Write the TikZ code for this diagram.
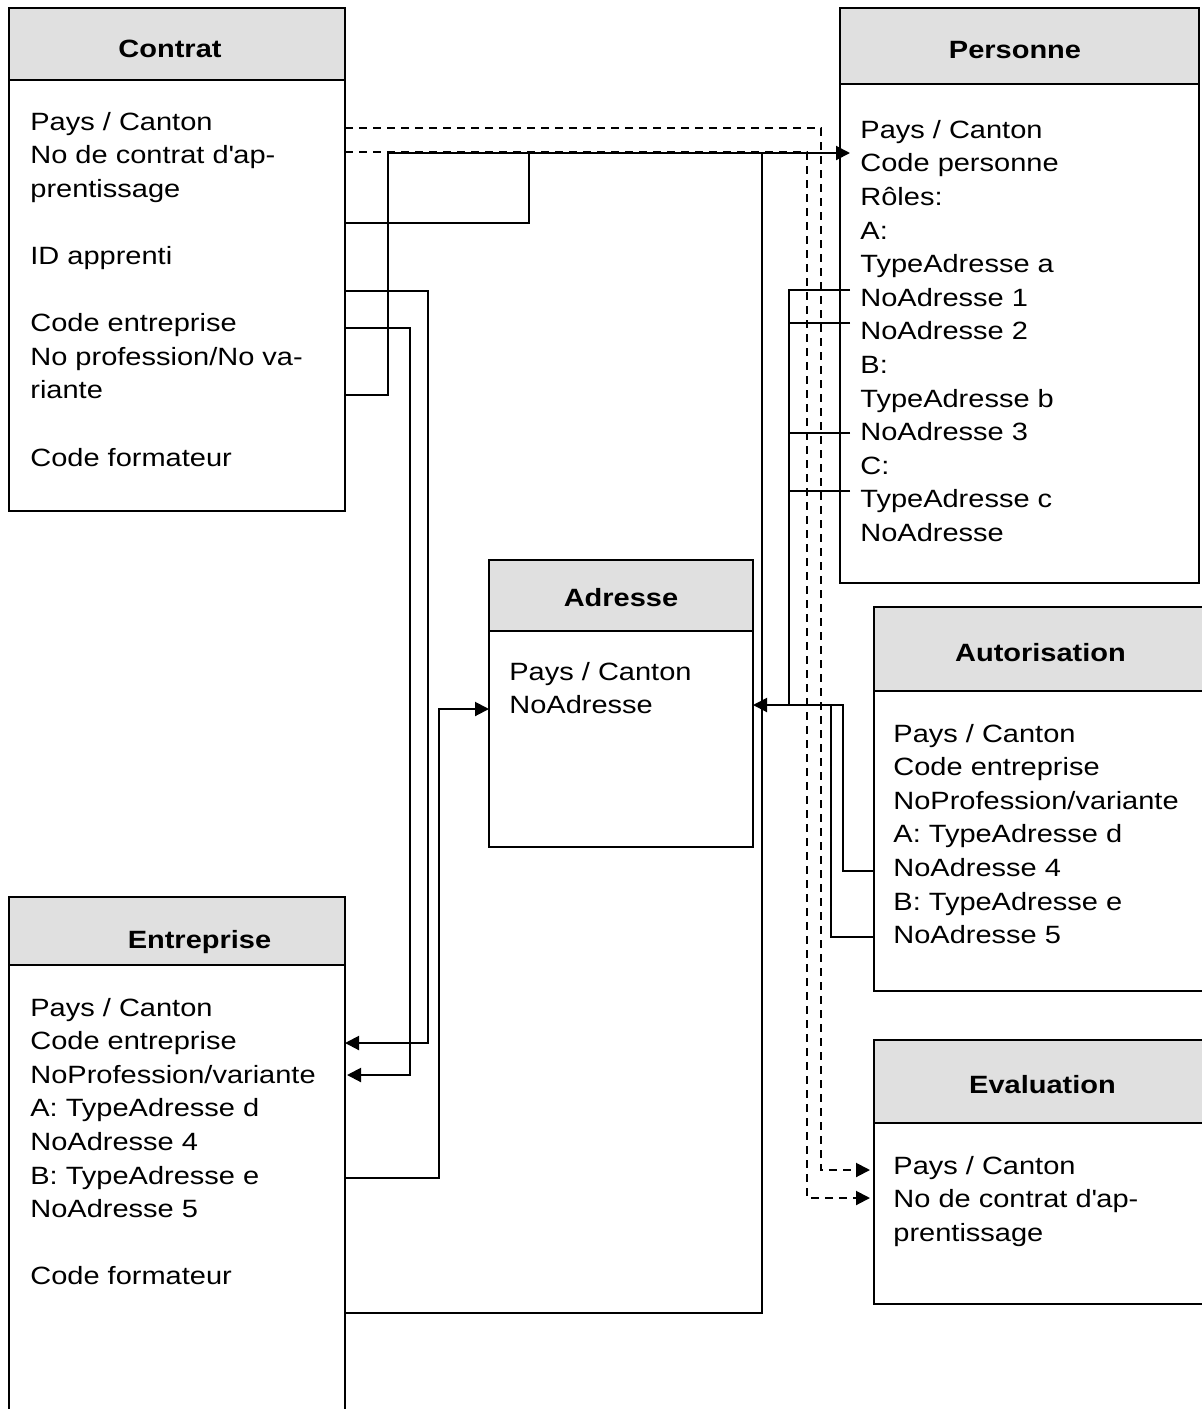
\documentclass[tikz,border=0pt]{standalone}
\usepackage{fontspec}
\setmainfont[FakeStretch=1.16]{Liberation Sans}
\usetikzlibrary{arrows.meta}
\definecolor{headgrey}{HTML}{E0E0E0}

\tikzset{
  tblhead/.style={draw, fill=headgrey, line width=1pt, outer sep=0pt, inner sep=0pt},
  tblbody/.style={draw, line width=1pt, outer sep=0pt, inner sep=0pt},
  ttl/.style={anchor=base, inner sep=0pt, font=\bfseries\fontsize{12.5}{15}\selectfont},
  fld/.style={anchor=base west, inner sep=0pt, font=\fontsize{12.5}{16.8}\selectfont},
  conn/.style={line width=1pt},
  dconn/.style={line width=1pt, dash pattern=on 4pt off 3pt},
  arr/.style={-{Triangle[length=7pt,width=7pt]}}
}

\begin{document}
\begin{tikzpicture}[x=0.5pt,y=-0.5pt]

\useasboundingbox (0,0) rectangle (1202,1409);
\clip (0,0) rectangle (1202,1409);

% Contrat
\node[tblhead, minimum width=168pt, minimum height=36pt] (ctrh) at (177,44) {};
\node[tblbody, minimum width=168pt, minimum height=215.5pt] (ctrb) at (177,295.5) {};
\node[ttl] (ctrt) at (170,57) {Contrat};
\foreach \t [count=\i] in {Pays / Canton, No de contrat d\textquotesingle ap-, prentissage, {}, ID apprenti, {},
  Code entreprise, No profession/No va-, riante, {}, Code formateur}
  \node[fld] (ctr-\i) at (30,{130+(\i-1)*33.6}) {\t};

% Personne
\node[tblhead, minimum width=179.5pt, minimum height=38pt] (perh) at (1019.5,46) {};
\node[tblbody, minimum width=179.5pt, minimum height=249.5pt] (perb) at (1019.5,333.5) {};
\node[ttl] (pert) at (1015,58) {Personne};
\foreach \t [count=\i] in {Pays / Canton, Code personne, Rôles:, A:, TypeAdresse a, NoAdresse 1,
  NoAdresse 2, B:, TypeAdresse b, NoAdresse 3, C:, TypeAdresse c, NoAdresse}
  \node[fld] (per-\i) at (860,{138.3+(\i-1)*33.6}) {\t};

% Adresse
\node[tblhead, minimum width=132pt, minimum height=35.5pt] (adrh) at (621,595.5) {};
\node[tblbody, minimum width=132pt, minimum height=108pt] (adrb) at (621,739) {};
\node[ttl] (adrt) at (621,606) {Adresse};
\foreach \t [count=\i] in {Pays / Canton, NoAdresse}
  \node[fld] (adr-\i) at (509,{680+(\i-1)*33.6}) {\t};

% Autorisation
\node[tblhead, minimum width=169pt, minimum height=42pt] (auth) at (1043,649) {};
\node[tblbody, minimum width=169pt, minimum height=150pt] (autb) at (1043,841) {};
\node[ttl] (autt) at (1040.5,661) {Autorisation};
\foreach \t [count=\i] in {Pays / Canton, Code entreprise, NoProfession/variante, A: TypeAdresse d,
  NoAdresse 4, B: TypeAdresse e, NoAdresse 5}
  \node[fld] (aut-\i) at (893,{742+(\i-1)*33.6}) {\t};

% Evaluation
\node[tblhead, minimum width=169pt, minimum height=41.5pt] (evah) at (1043,1081.5) {};
\node[tblbody, minimum width=169pt, minimum height=90.5pt] (evab) at (1043,1213.5) {};
\node[ttl] (evat) at (1042.5,1093) {Evaluation};
\foreach \t [count=\i] in {Pays / Canton, No de contrat d\textquotesingle ap-, prentissage}
  \node[fld] (eva-\i) at (893,{1174+(\i-1)*33.6}) {\t};

% Entreprise
\node[tblhead, minimum width=168pt, minimum height=34pt] (enth) at (177,931) {};
\node[tblbody, minimum width=168pt, minimum height=232.5pt] (entb) at (177,1197.5) {};
\node[ttl] (entt) at (199.5,948) {Entreprise};
\foreach \t [count=\i] in {Pays / Canton, Code entreprise, NoProfession/variante, A: TypeAdresse d,
  NoAdresse 4, B: TypeAdresse e, NoAdresse 5, {}, Code formateur}
  \node[fld] (ent-\i) at (30,{1016+(\i-1)*33.6}) {\t};

% Contrat -> Evaluation
\draw[dconn,arr,shorten >=2pt] (ctrb.east |- 0,128) -| (821,1170) -- (evab.west |- 0,1170);
\draw[dconn,arr,shorten >=2pt] (ctrb.east |- 0,152) -| (807,1198) -- (evab.west |- 0,1198);

% -> Personne
\draw[conn,arr,shorten >=-5pt] (ctrb.east |- 0,223) -| (529,153) -- (perb.west |- 0,153);
\draw[conn] (ctrb.east |- 0,395) -| (388,153) -- (529,153);
\draw[conn] (entb.east |- 0,1313) -| (762,153);

% Contrat -> Entreprise
\draw[conn,arr] (ctrb.east |- 0,291) -| (428,1043) -- (entb.east |- 0,1043);
\draw[conn,arr,shorten >=1pt] (ctrb.east |- 0,328) -| (410,1075) -- (entb.east |- 0,1075);

% -> Adresse
\draw[conn,arr] (entb.east |- 0,1178) -| (439,709) -- (adrb.west |- 0,709);
\draw[conn,arr] (850,290) -| (789,705) -- (adrb.east |- 0,705);
\draw[conn] (850,323) -- (789,323);
\draw[conn] (850,433) -- (789,433);
\draw[conn] (850,491) -- (789,491);
\draw[conn] (autb.west |- 0,871) -| (843,705) -- (789,705);
\draw[conn] (autb.west |- 0,937) -| (831,705);

\end{tikzpicture}
\end{document}
